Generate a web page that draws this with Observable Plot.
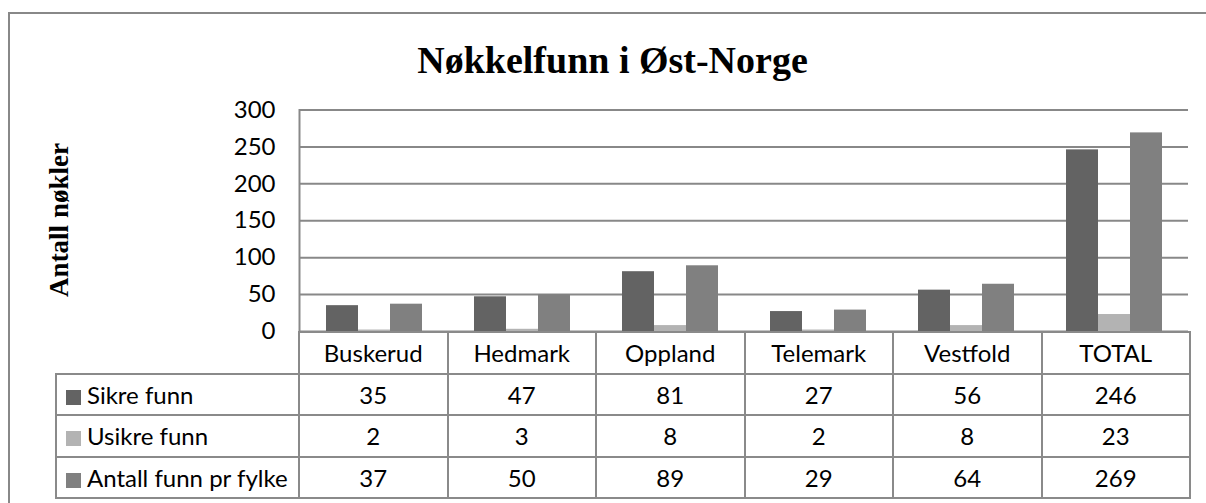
<!DOCTYPE html>
<html>
<head>
<meta charset="utf-8">
<script src="https://cdn.jsdelivr.net/npm/d3@7"></script>
<script src="https://cdn.jsdelivr.net/npm/@observablehq/plot@0.6"></script>
<style>
  html, body { margin: 0; padding: 0; background: #fff; }
  body { width: 1206px; height: 503px; position: relative; overflow: hidden; font-family: Lato, sans-serif; }
  #border { position: absolute; left: 8px; top: 12px; width: 1198px; height: 491px; border-left: 2px solid #888; border-top: 2px solid #888; box-sizing: border-box; }
  #title { position: absolute; left: 0; width: 1225px; top: 38px; text-align: center; font: bold 38px "Liberation Serif", serif; color: #000; line-height: 44px; }
  #ytitle { position: absolute; left: 59px; top: 220px; transform: translate(-50%, -50%) rotate(-90deg); font: bold 27px "Liberation Serif", serif; white-space: nowrap; color: #000; }
  #chart { position: absolute; left: 0; top: 100px; }
  table { position: absolute; left: 55px; top: 331px; border-collapse: collapse; table-layout: fixed; font: 24px Lato, sans-serif; color: #000; }
  td { border: 2px solid #8a8a8a; height: 41.5px; padding: 0; text-align: center; box-sizing: border-box; white-space: nowrap; }
  td.corner { border-top-style: hidden; border-left-style: hidden; }
  td.leg { text-align: left; padding-left: 9px; }
  .sw { display: inline-block; width: 15px; height: 15px; margin-right: 6px; vertical-align: -1px; }
</style>
</head>
<body>
<div id="border"></div>
<div id="title">Nøkkelfunn i Øst-Norge</div>
<div id="ytitle">Antall nøkler</div>
<div id="chart"></div>
<table id="tbl"></table>
<script>
const categories = ["Buskerud", "Hedmark", "Oppland", "Telemark", "Vestfold", "TOTAL"];
const series = ["Sikre funn", "Usikre funn", "Antall funn pr fylke"];
const sikreFunn = [35, 47, 81, 27, 56, 246];
const usikreFunn = [2, 3, 8, 2, 8, 23];
const antallFunn = [37, 50, 89, 29, 64, 269];
const seriesColors = ["#636363", "#b3b3b3", "#808080"];
const yTicks = [0, 50, 100, 150, 200, 250, 300];

const valuesBySeries = [sikreFunn, usikreFunn, antallFunn];
const rows = categories.flatMap((c, i) => series.map((s, j) => ({category: c, series: s, value: valuesBySeries[j][i]})));

const chart = Plot.plot({
  width: 1206,
  height: 240,
  marginTop: 9.5,
  marginBottom: 9,
  marginLeft: 298,
  marginRight: 17,
  style: {fontFamily: "Lato, sans-serif", fontSize: "24px", color: "#000", background: "transparent", overflow: "visible"},
  fx: {domain: categories, padding: 0, axis: null},
  x: {domain: series, paddingInner: 0, paddingOuter: 0.75, axis: null},
  y: {domain: [0, 300]},
  color: {domain: series, range: seriesColors},
  marks: [
    Plot.ruleY(yTicks, {stroke: "#888", strokeWidth: 2}),
    Plot.frame({anchor: "left", fx: categories[0], stroke: "#888", strokeWidth: 2, dx: -1}),
    Plot.barY(rows, {fx: "category", x: "series", y: "value", fill: "series"}),
    Plot.axisY({ticks: yTicks, tickSize: 0, tickPadding: 25, label: null, fontSize: 24})
  ]
});
document.getElementById("chart").appendChild(chart);

// data table below the chart
const tbl = document.getElementById("tbl");
const colgroup = document.createElement("colgroup");
const c0 = document.createElement("col"); c0.style.width = "243px"; colgroup.appendChild(c0);
categories.forEach(() => { const c = document.createElement("col"); c.style.width = "148.5px"; colgroup.appendChild(c); });
tbl.appendChild(colgroup);
const head = document.createElement("tr");
const corner = document.createElement("td"); corner.className = "corner"; head.appendChild(corner);
categories.forEach(c => { const td = document.createElement("td"); td.textContent = c; head.appendChild(td); });
tbl.appendChild(head);
series.forEach((s, j) => {
  const tr = document.createElement("tr");
  const lg = document.createElement("td"); lg.className = "leg";
  const sw = document.createElement("span"); sw.className = "sw"; sw.style.background = seriesColors[j];
  lg.appendChild(sw); lg.appendChild(document.createTextNode(s));
  tr.appendChild(lg);
  valuesBySeries[j].forEach(v => { const td = document.createElement("td"); td.textContent = v; tr.appendChild(td); });
  tbl.appendChild(tr);
});
</script>
</body>
</html>
